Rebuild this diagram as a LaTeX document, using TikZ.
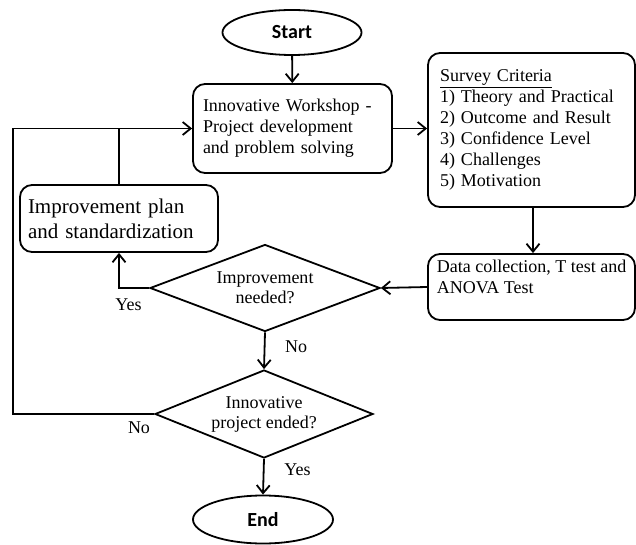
\documentclass[tikz,border=0pt]{standalone}
\usepackage{fontspec}
\setmainfont{Liberation Serif}
\newfontfamily\headfont{Carlito}
\usetikzlibrary{shapes.geometric,arrows.meta}
\begin{document}
\begin{tikzpicture}[x=1pt,y=-1pt,line width=1.8pt,
  every node/.style={inner sep=0pt},
  txt/.style={font=\fontsize{18}{21}\selectfont},
  term/.style={draw,ellipse,font=\headfont\bfseries\fontsize{20}{24}\selectfont},
  box/.style={draw,rounded corners=12pt,align=left,txt},
  decision/.style={draw,diamond,aspect=2.6,align=center,font=\fontsize{18}{20}\selectfont},
  lbl/.style={font=\fontsize{18}{21}\selectfont},
  arr/.style={-{Straight Barb[length=8pt,width=13pt]}}]
\useasboundingbox (0,0) rectangle (636,545);

\node[term,minimum width=139pt,minimum height=45pt] (start) at (292,32.5) {Start};
\node[box,minimum width=199pt,minimum height=89pt,text width=179pt] (ws) at (292.5,128.5)
  {Innovative Workshop -\\Project development\\and problem solving};
\node[box,minimum width=207pt,minimum height=154pt,text width=183pt] (sv) at (531.5,130)
  {\underline{Survey Criteria}\\1) Theory and Practical\\2) Outcome and Result\\3) Confidence Level\\4) Challenges\\5) Motivation};
\node[box,minimum width=207pt,minimum height=66pt] (data) at (531.5,287)
  {Data collection, T test and\\ANOVA Test\\\mbox{}};
\node[decision,minimum width=230pt,minimum height=87pt] (d1) at (265,288)
  {Improvement\\needed?};
\node[box,font=\fontsize{21}{25}\selectfont,minimum width=198pt,minimum height=67pt,text width=182pt] (imp) at (119,218.5)
  {Improvement plan\\and standardization};
\node[decision,minimum width=218pt,minimum height=88pt] (d2) at (264,414)
  {Innovative\\project ended?};
\node[term,minimum width=140pt,minimum height=48pt] (end) at (263,519.5) {End};

\coordinate (join) at (imp.north |- ws.west);
\coordinate (loopA) at (13,0 |- d2.west);
\coordinate (loopB) at (13,0 |- ws.west);

\draw[arr] (start) -- (ws);
\draw[arr] (ws.east) -- (ws.east -| sv.west);
\draw[arr] (sv.south -| 533,0) -- (data.north -| 533,0);
\draw[arr] (data.west) -- (d1.east);
\draw[arr] (d1.west) -| (imp.south);
\draw (imp.north) -- (join);
\draw[arr] (d1.south) -- (d2.north);
\draw[arr] (d2.west) -- (loopA) -- (loopB) -- (ws.west);
\draw[arr] (d2.south) -- (end.north);

\node[lbl] (y1) at (128.5,305) {Yes};
\node[lbl] (n1) at (296,347) {No};
\node[lbl] (n2) at (139,428) {No};
\node[lbl] (y2) at (297.5,470) {Yes};
\end{tikzpicture}
\end{document}
